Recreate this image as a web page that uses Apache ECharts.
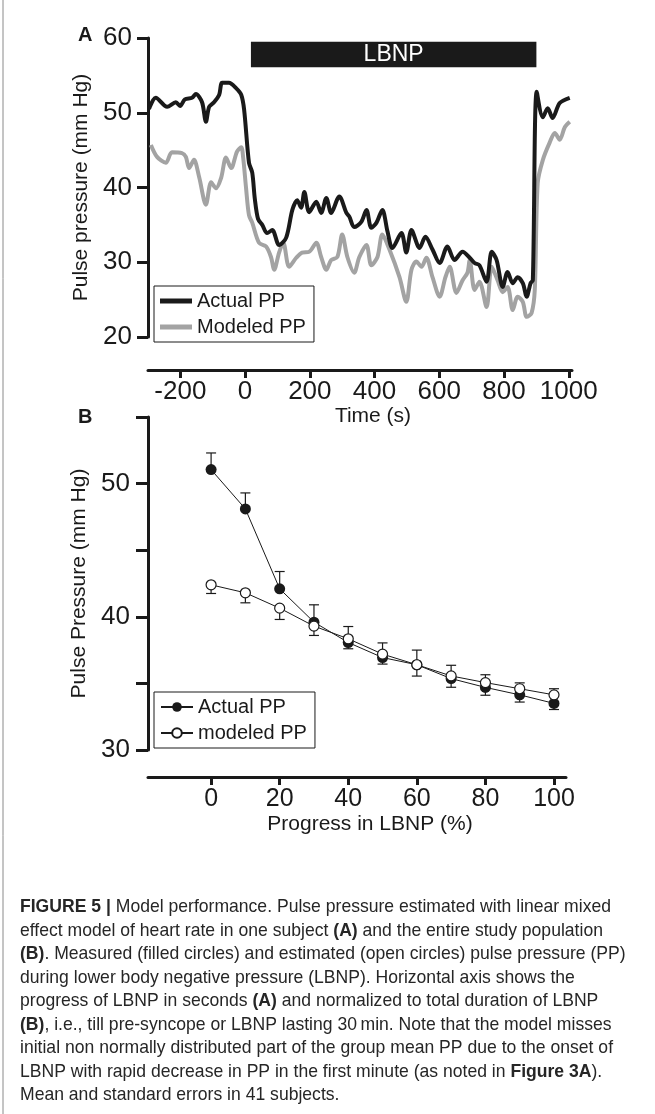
<!DOCTYPE html>
<html>
<head>
<meta charset="utf-8">
<script src="https://cdn.jsdelivr.net/npm/echarts@6/dist/echarts.min.js"></script>
<style>
  html, body { margin: 0; padding: 0; background: #fff; }
  #main { width: 655px; height: 1114px; }
</style>
</head>
<body>
<div id="main"></div>
<script>
// Panel A: single subject, time course (s) vs pulse pressure (mm Hg)
const timeTicks = [-200, 0, 200, 400, 600, 800, 1000];
const actualT = [-297, -276, -241, -214, -201, -186, -164, -152, -133, -121, -111, -96, -80, -71, -50, -28, -12, -3,
  12, 22, 30, 40, 53, 68, 84, 105, 127, 146, 161, 173, 183, 198, 220, 235, 251, 266, 291, 313, 322, 337, 359,
  375, 390, 406, 424, 440, 455, 483, 498, 514, 539, 557, 579, 601, 625, 647, 672, 694, 709, 724, 746, 762,
  777, 796, 811, 827, 842, 858, 870, 882, 889, 901, 920, 935, 950, 972, 1003];
const actualV = [50.5, 52.0, 50.8, 51.4, 50.9, 51.8, 52.0, 52.5, 51.4, 48.8, 50.8, 51.4, 52.4, 54.0, 54.0, 53.3, 52.4, 50.4,
  43.3, 42.0, 38.5, 35.8, 35.0, 33.9, 34.3, 32.3, 33.3, 37.0, 38.3, 37.3, 39.4, 36.7, 38.1, 36.6, 38.6, 36.6, 38.8, 36.6, 36.1, 34.7, 35.4,
  37.0, 34.6, 35.3, 37.0, 34.1, 31.9, 33.9, 31.3, 34.3, 31.9, 33.4, 31.7, 29.9, 32.1, 30.3, 31.4, 30.6, 29.9, 29.6, 27.4, 31.4,
  30.3, 26.7, 28.7, 27.2, 28.0, 27.2, 25.4, 27.2, 27.6, 52.8, 49.4, 50.6, 49.3, 51.3, 52.0];
const modeledT = [-291, -272, -245, -226, -195, -183, -173, -158, -142, -121, -105, -90, -74, -59, -43, -25, -12, -6,
  3, 12, 22, 43, 65, 80, 90, 105, 118, 136, 158, 176, 198, 220, 235, 251, 266, 285, 300, 316, 337, 353,
  375, 390, 409, 424, 446, 477, 498, 514, 529, 545, 560, 579, 601, 619, 632, 653, 672, 687, 694, 709, 724,
  746, 762, 780, 796, 811, 827, 842, 858, 870, 885, 895, 904, 920, 941, 957, 972, 988, 1003];
const modeledV = [45.7, 44.1, 43.3, 44.7, 44.6, 44.1, 42.6, 43.7, 41.4, 37.7, 40.7, 39.9, 41.3, 44.0, 42.6, 44.8, 45.4, 44.0,
  39.9, 36.3, 35.3, 32.6, 32.1, 30.7, 29.0, 31.3, 32.6, 29.4, 30.6, 31.3, 31.4, 32.6, 30.7, 29.0, 30.3, 30.7, 33.7, 30.7, 28.6, 30.7,
  32.3, 29.6, 30.7, 33.7, 31.7, 28.0, 24.7, 29.0, 30.1, 29.4, 30.6, 28.0, 25.4, 28.0, 29.4, 25.9, 27.6, 28.6, 30.3, 26.3, 27.4,
  24.0, 29.4, 27.6, 26.0, 26.7, 23.6, 25.4, 24.7, 22.7, 23.2, 26.3, 40.6, 43.7, 46.0, 47.3, 46.4, 48.1, 48.8];
const lbnpStart = 18, lbnpEnd = 900, lbnpLow = 56.1, lbnpHigh = 59.5;

// Panel B: group means (41 subjects) vs progress in LBNP (%)
const progress = [0, 10, 20, 30, 40, 50, 60, 70, 80, 90, 100];
const progressTicks = [0, 20, 40, 60, 80, 100];
const actualMean = [51.05, 48.1, 42.1, 39.6, 38.07, 36.94, 36.4, 35.36, 34.7, 34.14, 33.5];
const actualSE = [1.25, 1.2, 1.3, 1.3, 1.2, 1.1, 1.1, 1.0, 0.95, 0.9, 1.1];
const modeledMean = [42.4, 41.8, 40.65, 39.3, 38.35, 37.2, 36.4, 35.56, 35.06, 34.6, 34.14];
const modeledSE = [0.65, 0.75, 0.85, 0.7, 0.75, 0.75, 0.85, 0.85, 0.95, 1.0, 1.1];

const caption = [
  '{b|FIGURE 5 |} Model performance. Pulse pressure estimated with linear mixed',
  'effect model of heart rate in one subject {b|(A)} and the entire study population',
  '{b|(B)}. Measured (filled circles) and estimated (open circles) pulse pressure (PP)',
  'during lower body negative pressure (LBNP). Horizontal axis shows the',
  'progress of LBNP in seconds {b|(A)} and normalized to total duration of LBNP',
  '{b|(B)}, i.e., till pre-syncope or LBNP lasting 30\u2009min. Note that the model misses',
  'initial non normally distributed part of the group mean PP due to the onset of',
  'LBNP with rapid decrease in PP in the first minute (as noted in {b|Figure 3A}).',
  'Mean and standard errors in 41 subjects.'
];

const ink = '#1a1a1a';
const grey = '#a3a3a3';
const font = 'Liberation Sans';
const capFont = 'Liberation Sans';

const chart = echarts.init(document.getElementById('main'));

function errorBars(means, ses, dir) {
  return {
    type: 'custom',
    xAxisIndex: 1,
    yAxisIndex: 1,
    z: 1,
    silent: true,
    encode: { x: 0, y: [1, 2] },
    data: progress.map((p, i) => [p, means[i], means[i] + dir * ses[i]]),
    renderItem: function (params, api) {
      const a = api.coord([api.value(0), api.value(1)]);
      const b = api.coord([api.value(0), api.value(2)]);
      const st = { stroke: ink, lineWidth: 1.2 };
      return {
        type: 'group',
        children: [
          { type: 'line', shape: { x1: a[0], y1: a[1], x2: b[0], y2: b[1] }, style: st },
          { type: 'line', shape: { x1: b[0] - 5, y1: b[1], x2: b[0] + 5, y2: b[1] }, style: st }
        ]
      };
    }
  };
}

const axisLineStyle = { color: ink, width: 3 };
const plain = v => String(v);

const option = {
  animation: false,
  backgroundColor: '#fff',
  textStyle: { fontFamily: font, color: ink },
  grid: [
    { left: 148, right: 83, top: 38, bottom: 777 },
    { left: 148, right: 89, top: 417, bottom: 364 }
  ],
  xAxis: [
    {
      type: 'value', gridIndex: 0, min: -300, max: 1010, offset: 33,
      axisLine: { onZero: false, lineStyle: axisLineStyle },
      axisTick: { customValues: timeTicks, length: 8, lineStyle: { width: 3, color: ink } },
      axisLabel: { customValues: timeTicks, formatter: plain, fontSize: 26, margin: 9, color: ink },
      splitLine: { show: false },
      name: 'Time (s)', nameLocation: 'middle', nameGap: 36,
      nameTextStyle: { fontSize: 21, color: ink, padding: [0, 0, 0, 26] }
    },
    {
      type: 'value', gridIndex: 1, min: -18.4, max: 103.5, offset: 27,
      axisLine: { onZero: false, lineStyle: axisLineStyle },
      axisTick: { customValues: progressTicks, length: 8, lineStyle: { width: 3, color: ink } },
      axisLabel: { customValues: progressTicks, formatter: plain, fontSize: 25, margin: 10, color: ink },
      splitLine: { show: false },
      name: 'Progress in LBNP (%)', nameLocation: 'middle', nameGap: 37,
      nameTextStyle: { fontSize: 21, color: ink, padding: [0, 0, 0, 26] }
    }
  ],
  yAxis: [
    {
      type: 'value', gridIndex: 0, min: 20, max: 60, interval: 10,
      axisLine: { show: true, onZero: false, lineStyle: axisLineStyle },
      axisTick: { show: true, length: 11, lineStyle: { width: 3, color: ink } },
      axisLabel: { fontSize: 26, margin: 16, color: ink },
      splitLine: { show: false },
      name: 'Pulse pressure (mm Hg)', nameLocation: 'middle', nameGap: 56,
      nameTextStyle: { fontSize: 21, color: ink }
    },
    {
      type: 'value', gridIndex: 1, min: 30, max: 55, interval: 5,
      axisLine: { show: true, onZero: false, lineStyle: axisLineStyle },
      axisTick: { show: true, length: 12, lineStyle: { width: 3, color: ink } },
      axisLabel: { customValues: [30, 40, 50], fontSize: 26, margin: 18, color: ink },
      splitLine: { show: false },
      name: 'Pulse Pressure (mm Hg)', nameLocation: 'middle', nameGap: 56,
      nameTextStyle: { fontSize: 21, color: ink }
    }
  ],
  legend: [
    {
      left: 154, top: 286, orient: 'vertical',
      borderColor: ink, borderWidth: 1, padding: [5, 8, 5, 6], itemGap: 6,
      itemWidth: 32, itemHeight: 5, icon: 'rect',
      textStyle: { fontSize: 20, color: ink, fontFamily: font },
      data: ['Actual PP', 'Modeled PP']
    },
    {
      left: 154, top: 692, orient: 'vertical',
      borderColor: ink, borderWidth: 1, padding: [5, 8, 5, 6], itemGap: 6,
      itemWidth: 32, itemHeight: 12,
      textStyle: { fontSize: 20, color: ink, fontFamily: font },
      formatter: function (n) { return n.replace(' (B)', ''); },
      data: ['Actual PP (B)', 'modeled PP']
    }
  ],
  series: [
    {
      name: 'Modeled PP', type: 'line', xAxisIndex: 0, yAxisIndex: 0,
      data: modeledT.map((t, i) => [t, modeledV[i]]),
      showSymbol: false, smooth: 0.3,
      itemStyle: { color: grey },
      lineStyle: { color: grey, width: 4 }
    },
    {
      name: 'Actual PP', type: 'line', xAxisIndex: 0, yAxisIndex: 0,
      data: actualT.map((t, i) => [t, actualV[i]]),
      showSymbol: false, smooth: 0.3,
      itemStyle: { color: ink },
      lineStyle: { color: ink, width: 4 },
      markArea: {
        silent: true,
        itemStyle: { color: ink },
        label: { show: true, position: 'inside', color: '#fff', fontSize: 23, fontFamily: font },
        data: [[
          { name: 'LBNP', xAxis: lbnpStart, yAxis: lbnpLow },
          { xAxis: lbnpEnd, yAxis: lbnpHigh }
        ]]
      }
    },
    errorBars(actualMean, actualSE, 1),
    errorBars(modeledMean, modeledSE, -1),
    {
      name: 'Actual PP (B)', type: 'line', xAxisIndex: 1, yAxisIndex: 1, z: 3,
      data: progress.map((p, i) => [p, actualMean[i]]),
      symbol: 'circle', symbolSize: 11,
      itemStyle: { color: ink },
      lineStyle: { color: ink, width: 1 }
    },
    {
      name: 'modeled PP', type: 'line', xAxisIndex: 1, yAxisIndex: 1, z: 4,
      data: progress.map((p, i) => [p, modeledMean[i]]),
      symbol: 'circle', symbolSize: 10,
      itemStyle: { color: '#fff', borderColor: ink, borderWidth: 1.2 },
      lineStyle: { color: ink, width: 1 }
    }
  ],
  graphic: [
    { type: 'line', shape: { x1: 3, y1: 0, x2: 3, y2: 1114 }, style: { stroke: '#8a8a8a', lineWidth: 1 } },
    { type: 'text', x: 78, y: 35, style: { text: 'A', fontSize: 20, fontWeight: 'bold', fontFamily: font, fill: ink, verticalAlign: 'middle' } },
    { type: 'text', x: 78, y: 417, style: { text: 'B', fontSize: 20, fontWeight: 'bold', fontFamily: font, fill: ink, verticalAlign: 'middle' } }
  ].concat(caption.map((line, i) => ({
    type: 'text', x: 20, y: 907 + i * 23.5, scaleX: 0.925,
    style: {
      text: line, fontSize: 19, fontFamily: capFont, fill: '#262626', verticalAlign: 'middle',
      rich: { b: { fontWeight: 'bold', fontSize: 19, fontFamily: capFont, fill: '#262626' } }
    }
  })))
};

chart.setOption(option);
</script>
</body>
</html>
